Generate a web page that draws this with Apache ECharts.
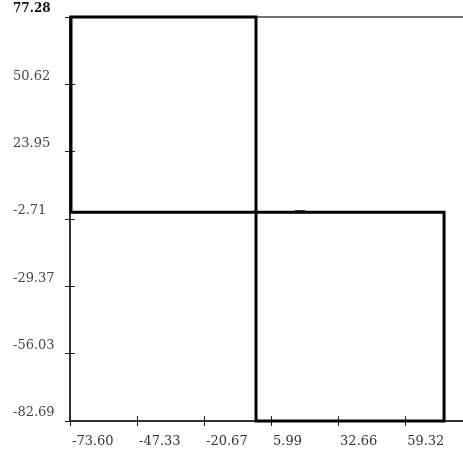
<!DOCTYPE html>
<html><head><meta charset="utf-8">
<script src="https://cdn.jsdelivr.net/npm/echarts@6/dist/echarts.min.js"></script>
<style>html,body{margin:0;padding:0;background:#fff}#c{width:463px;height:456px}</style>
</head><body><div id="c"></div>
<script>
const xTickLabels = ['-73.60', '-47.33', '-20.67', '5.99', '32.66', '59.32'];
const yTickLabels = ['-82.69', '-56.03', '-29.37', '-2.71', '23.95', '50.62', '77.28'];
const xMin = -73.99, xMax = 82.34;
const yMin = -82.69, yMax = 77.28;
const step = (yMax - yMin) / 6;
const boxAx = [-73.6, 0];
const boxAy = [0, 77.28];
const boxBx = [0, 74.8];
const boxBy = [-82.69, 0];
const markX = [15.5, 19.5];
const markY = [0.4, 0.4];

function rect(xs, ys) {
  return [[xs[0], ys[0]], [xs[0], ys[1]], [xs[1], ys[1]], [xs[1], ys[0]], [xs[0], ys[0]]];
}
function idxOf(v, min) {
  const i = Math.round((v - min) / step);
  return Math.abs(min + i * step - v) < 0.02 ? i : -1;
}
const font = 'DejaVu Serif';
const chart = echarts.init(document.getElementById('c'), null, {renderer: 'canvas'});
const baseX = {type: 'value', min: xMin, max: xMax, interval: step, splitLine: {show: false}};
const baseY = {type: 'value', min: yMin, max: yMax, interval: step, splitLine: {show: false}};
chart.setOption({
  animation: false,
  backgroundColor: '#fff',
  grid: {left: 70, right: 0, top: 17, bottom: 35, containLabel: false, outerBoundsMode: 'none'},
  xAxis: [
    Object.assign({}, baseX, {
      position: 'bottom',
      axisLine: {show: true, onZero: false, lineStyle: {color: '#333', width: 2}},
      axisTick: {show: true, length: 5, lineStyle: {color: '#222', width: 1}},
      axisLabel: {
        show: true, margin: 14, align: 'left', padding: [0, 0, 0, 2],
        fontFamily: font, fontSize: 13, color: '#333',
        showMaxLabel: false, hideOverlap: false,
        formatter: v => { const i = idxOf(v, xMin); return i >= 0 && i < xTickLabels.length ? xTickLabels[i] : ''; }
      }
    }),
    Object.assign({}, baseX, {
      position: 'bottom',
      axisLine: {show: false, onZero: false},
      axisTick: {show: true, inside: true, length: 5, lineStyle: {color: '#222', width: 1}},
      axisLabel: {show: false}
    }),
    Object.assign({}, baseX, {
      position: 'top',
      axisLine: {show: true, onZero: false, lineStyle: {color: '#444', width: 1.5}},
      axisTick: {show: false},
      axisLabel: {show: false}
    })
  ],
  yAxis: [
    Object.assign({}, baseY, {
      position: 'left',
      axisLine: {show: true, onZero: false, lineStyle: {color: '#333', width: 2}},
      axisTick: {show: true, length: 5, lineStyle: {color: '#222', width: 1}},
      axisLabel: {
        show: true, margin: 57, align: 'left', verticalAlign: 'bottom', lineHeight: 12,
        padding: [0, 0, 2, 0],
        fontFamily: font, fontSize: 13, color: '#444',
        showMaxLabel: true, showMinLabel: true, hideOverlap: false,
        formatter: v => {
          const i = idxOf(v, yMin);
          if (i < 0 || i >= yTickLabels.length) return '';
          return i === yTickLabels.length - 1 ? '{b|' + yTickLabels[i] + '}' : yTickLabels[i];
        },
        rich: {b: {fontFamily: font, fontSize: 12, fontWeight: 'bold', color: '#111', lineHeight: 12}}
      }
    }),
    Object.assign({}, baseY, {
      position: 'left',
      axisLine: {show: false, onZero: false},
      axisTick: {show: true, inside: true, length: 5, lineStyle: {color: '#222', width: 1}},
      axisLabel: {show: false}
    })
  ],
  series: [
    {type: 'line', data: rect(boxAx, boxAy), symbol: 'none', clip: false, xAxisIndex: 0, yAxisIndex: 0,
     lineStyle: {color: '#000', width: 3, join: 'miter', cap: 'square'}},
    {type: 'line', data: rect(boxBx, boxBy), symbol: 'none', clip: false, xAxisIndex: 0, yAxisIndex: 0,
     lineStyle: {color: '#000', width: 3, join: 'miter', cap: 'square'}},
    {type: 'line', data: markX.map((x, i) => [x, markY[i]]), symbol: 'none', clip: false,
     lineStyle: {color: '#111', width: 2}}
  ]
});
</script></body></html>
